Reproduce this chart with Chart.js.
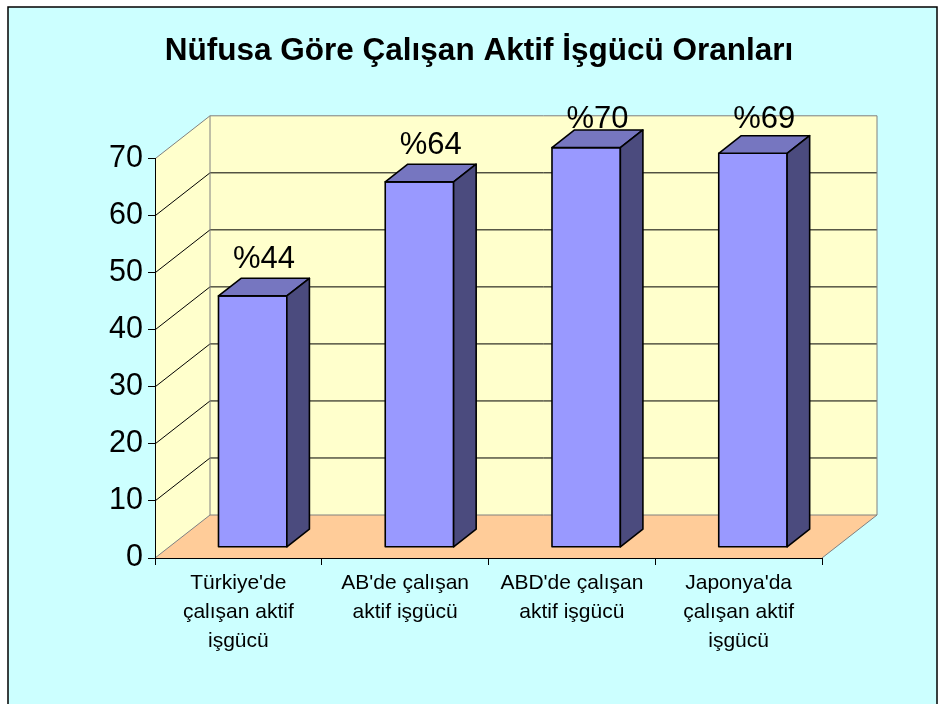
<!DOCTYPE html>
<html lang="tr">
<head>
<meta charset="utf-8">
<title>Nüfusa Göre Çalışan Aktif İşgücü Oranları</title>
<script src="https://cdn.jsdelivr.net/npm/chart.js@4.4.1/dist/chart.umd.min.js"></script>
<style>
    html, body { margin: 0; padding: 0; background: #ffffff; }
    #wrap { width: 940px; height: 704px; }
</style>
</head>
<body>
<div id="wrap"><canvas id="chart"></canvas></div>
<script>
// chart data
const chartTitle = "Nüfusa Göre Çalışan Aktif İşgücü Oranları";
const categories = [
    ["Türkiye'de", "çalışan aktif", "işgücü"],
    ["AB'de çalışan", "aktif işgücü"],
    ["ABD'de çalışan", "aktif işgücü"],
    ["Japonya'da", "çalışan aktif", "işgücü"]
];
const values = [44, 64, 70, 69];
const yTicks = [0, 10, 20, 30, 40, 50, 60, 70];

const FONT = "'Liberation Sans', Arial, sans-serif";

// 3D look: depth of the walls and where the bars sit in it
const DX = 55, DY = -43;
const FRONT = 0.26, BACK = 0.67;

function poly(ctx, pts, fill, stroke, lw) {
    ctx.beginPath();
    ctx.moveTo(pts[0][0], pts[0][1]);
    for (let i = 1; i < pts.length; i++) ctx.lineTo(pts[i][0], pts[i][1]);
    ctx.closePath();
    if (fill) { ctx.fillStyle = fill; ctx.fill(); }
    if (stroke) { ctx.strokeStyle = stroke; ctx.lineWidth = lw || 1; ctx.stroke(); }
}

function line(ctx, x1, y1, x2, y2, color) {
    ctx.beginPath();
    ctx.moveTo(x1, y1);
    ctx.lineTo(x2, y2);
    ctx.strokeStyle = color;
    ctx.lineWidth = 1;
    ctx.stroke();
}

const box3d = {
    id: 'box3d',
    beforeDraw(chart) {
        const { ctx, chartArea: a, scales: { y } } = chart;
        ctx.save();
        ctx.fillStyle = '#ffffff';
        ctx.fillRect(0, 0, chart.width, chart.height);
        // outer frame
        ctx.fillStyle = '#CCFFFF';
        ctx.fillRect(8, 7, chart.width - 11, chart.height);
        ctx.strokeStyle = '#000';
        ctx.lineWidth = 1.5;
        ctx.strokeRect(8, 7, chart.width - 11, chart.height + 5);

        const y0 = y.getPixelForValue(y.min), yT = y.getPixelForValue(y.max);
        const L = a.left, R = a.right;
        // side wall, back wall, floor
        poly(ctx, [[L, yT], [L + DX, yT + DY], [L + DX, y0 + DY], [L, y0]], '#FFFFCC');
        poly(ctx, [[L + DX, yT + DY], [R + DX, yT + DY], [R + DX, y0 + DY], [L + DX, y0 + DY]], '#FFFFCC');
        poly(ctx, [[L, y0], [L + DX, y0 + DY], [R + DX, y0 + DY], [R, y0]], '#FFCC99');
        // grid lines on the walls
        y.ticks.forEach(t => {
            if (t.value === y.min || t.value === y.max) return;
            const py = y.getPixelForValue(t.value);
            line(ctx, L, py, L + DX, py + DY, '#000');
            line(ctx, L + DX, py + DY, R + DX, py + DY, '#000');
        });
        // wall edges
        line(ctx, L, yT, L + DX, yT + DY, '#808080');
        line(ctx, L + DX, yT + DY, R + DX, yT + DY, '#808080');
        line(ctx, R + DX, yT + DY, R + DX, y0 + DY, '#808080');
        line(ctx, L + DX, yT + DY, L + DX, y0 + DY, '#808080');
        line(ctx, L + DX, y0 + DY, R + DX, y0 + DY, '#808080');
        line(ctx, L, y0, L + DX, y0 + DY, '#808080');
        line(ctx, R, y0, R + DX, y0 + DY, '#808080');
        ctx.restore();
    },
    afterDatasetsDraw(chart) {
        const { ctx, scales: { y } } = chart;
        const meta = chart.getDatasetMeta(0);
        const data = chart.data.datasets[0].data;
        const yBase = y.getPixelForValue(0);
        const wallTop = y.getPixelForValue(y.max) + DY;
        const fx = FRONT * DX, fy = FRONT * DY, bx = BACK * DX, by = BACK * DY;
        ctx.save();
        ctx.lineJoin = 'round';
        meta.data.forEach((bar, i) => {
            const half = bar.width / 2;
            const xl = bar.x - half, xr = bar.x + half, yt = bar.y;
            poly(ctx, [[xl + fx, yt + fy], [xr + fx, yt + fy], [xr + fx, yBase + fy], [xl + fx, yBase + fy]], '#9999FF', '#000', 1.6);
            poly(ctx, [[xl + fx, yt + fy], [xr + fx, yt + fy], [xr + bx, yt + by], [xl + bx, yt + by]], '#7676C0', '#000', 1.6);
            poly(ctx, [[xr + fx, yt + fy], [xr + bx, yt + by], [xr + bx, yBase + by], [xr + fx, yBase + fy]], '#4B4B7E', '#000', 1.6);

            // value label
            const base = Math.max(yt + by - 10, wallTop + 12);
            ctx.fillStyle = '#000';
            ctx.font = '31px ' + FONT;
            ctx.textAlign = 'center';
            ctx.textBaseline = 'alphabetic';
            ctx.fillText('%' + data[i], bar.x + (fx + bx) / 2, base);
        });
        ctx.restore();
    }
};

new Chart(document.getElementById('chart'), {
    type: 'bar',
    plugins: [box3d],
    data: {
        labels: categories,
        datasets: [{
            data: values,
            backgroundColor: 'rgba(0,0,0,0)',
            borderWidth: 0,
            barPercentage: 0.41,
            categoryPercentage: 1.0
        }]
    },
    options: {
        responsive: true,
        maintainAspectRatio: false,
        animation: false,
        layout: { padding: { left: 18, right: 0, top: 0, bottom: 0 } },
        plugins: {
            legend: { display: false },
            tooltip: { enabled: false },
            title: {
                display: true,
                text: chartTitle,
                color: '#000',
                font: { family: FONT, size: 31.5, weight: 'bold' },
                padding: { top: 32, bottom: 89 }
            }
        },
        scales: {
            x: {
                afterFit(scale) { scale.height = 146; },
                grid: { drawOnChartArea: false, drawTicks: true, tickLength: 7, color: '#000', offset: true },
                border: { color: '#000', width: 1 },
                ticks: {
                    color: '#000',
                    padding: 4,
                    maxRotation: 0,
                    autoSkip: false,
                    font: { family: FONT, size: 21, lineHeight: 1.38 }
                }
            },
            y: {
                min: 0,
                max: 70,
                afterFit(scale) { scale.width = 137; },
                afterBuildTicks(scale) { scale.ticks = yTicks.map(v => ({ value: v })); },
                grid: { drawOnChartArea: false, drawTicks: true, tickLength: 7, color: '#000' },
                border: { color: '#000', width: 1 },
                ticks: {
                    color: '#000',
                    padding: 5,
                    font: { family: FONT, size: 30.5 }
                }
            },
            // empty right axis keeps room for the 3D depth on the right
            yRight: {
                position: 'right',
                min: 0,
                max: 70,
                afterFit(scale) { scale.width = 118; },
                grid: { display: false },
                border: { display: false },
                ticks: { display: false }
            }
        }
    }
});
</script>
</body>
</html>
